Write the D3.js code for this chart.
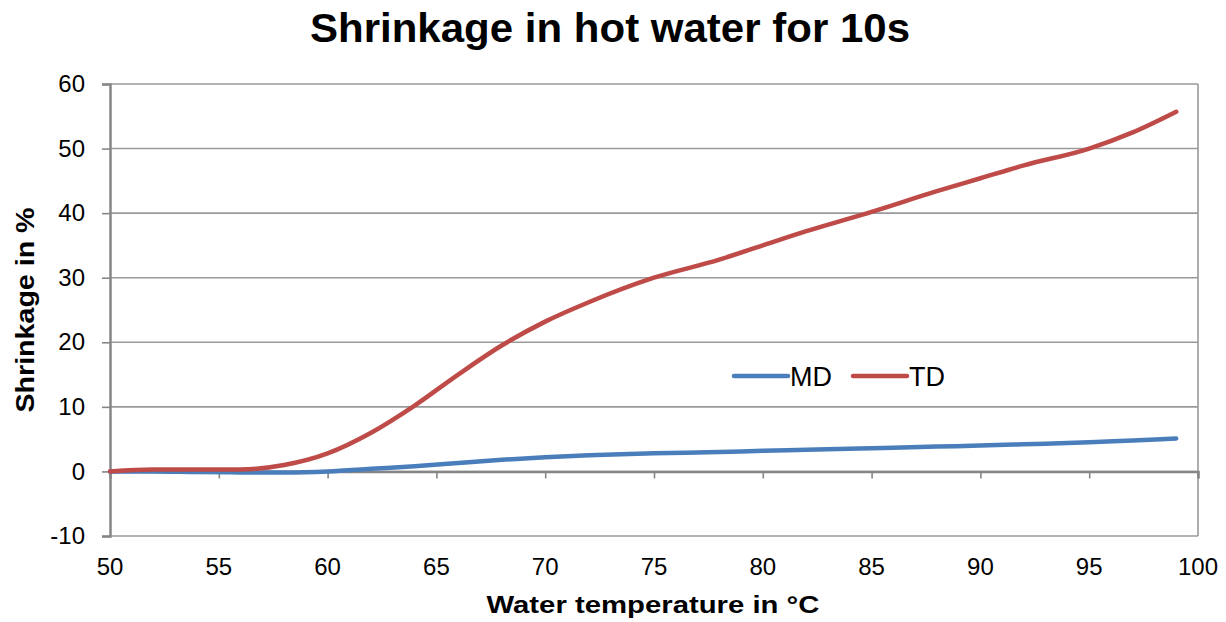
<!DOCTYPE html>
<html>
<head>
<meta charset="utf-8">
<script src="https://cdn.jsdelivr.net/npm/d3@7"></script>
<style>
  body { margin: 0; background: #fff; }
  text { font-family: "Liberation Sans", Arial, sans-serif; fill: #000; }
</style>
</head>
<body>
<svg id="chart" width="1226" height="622"></svg>
<script>
// data
var temps   = [50, 52, 54, 56, 58, 60, 62, 64, 66, 68, 70, 72, 75, 78, 80, 82, 85, 88, 90, 92, 95, 97, 99];
var mdVals  = [0, 0, -0.1, -0.15, -0.15, 0, 0.4, 0.8, 1.3, 1.8, 2.2, 2.5, 2.8, 3.0, 3.2, 3.35, 3.6, 3.85, 4.0, 4.2, 4.5, 4.8, 5.1];
var tdVals  = [0, 0.3, 0.3, 0.3, 1.0, 2.8, 6.0, 10.2, 15.0, 19.5, 23.2, 26.2, 30.0, 32.8, 35.0, 37.2, 40.2, 43.4, 45.4, 47.4, 50.0, 52.5, 55.7];
var seriesNames = ['MD', 'TD'];
var seriesColors = ['#4a7ebb', '#be4b48'];
var xTicks = [50, 55, 60, 65, 70, 75, 80, 85, 90, 95, 100];
var yTicks = [-10, 0, 10, 20, 30, 40, 50, 60];

var svg = d3.select('#chart');

var padding = {t: 84, r: 28, b: 86, l: 110};
var chartWidth = 1198 - padding.l;
var chartHeight = 536 - padding.t;

var chartG = svg.append('g')
    .attr('transform', 'translate(' + [padding.l, padding.t] + ')');

var xScale = d3.scaleLinear().domain([50, 100]).range([0, chartWidth]);
var yScale = d3.scaleLinear().domain([-10, 60]).range([chartHeight, 0]);

// gridlines
chartG.append('g')
    .selectAll('line')
    .data(yTicks)
    .enter().append('line')
    .attr('x1', 0).attr('x2', chartWidth)
    .attr('y1', function(d) { return yScale(d); })
    .attr('y2', function(d) { return yScale(d); })
    .attr('stroke', '#9a9a9a')
    .attr('stroke-width', 1.6);

// right border
chartG.append('line')
    .attr('x1', chartWidth).attr('x2', chartWidth)
    .attr('y1', 0).attr('y2', chartHeight)
    .attr('stroke', '#9a9a9a').attr('stroke-width', 1.6);

// y axis
var yAxisG = chartG.append('g')
    .call(d3.axisLeft(yScale).tickValues(yTicks).tickSize(8).tickPadding(17)
        .tickFormat(function(d) { return String(d); }));
yAxisG.select('.domain').attr('stroke', '#868686').attr('stroke-width', 2.5);
yAxisG.selectAll('.tick line').attr('stroke', '#868686').attr('stroke-width', 1.6);
yAxisG.selectAll('text').style('font-size', '24px').attr('fill', '#000');

// x axis crosses at zero, labels at bottom
var xAxisG = chartG.append('g')
    .attr('transform', 'translate(0,' + yScale(0) + ')')
    .call(d3.axisBottom(xScale).tickValues(xTicks).tickSize(7).tickFormat(''));
xAxisG.select('.domain').attr('stroke', '#868686').attr('stroke-width', 2.5);
xAxisG.selectAll('.tick line').attr('stroke', '#868686').attr('stroke-width', 1.6);

chartG.append('g')
    .selectAll('text')
    .data(xTicks)
    .enter().append('text')
    .attr('x', function(d) { return xScale(d); })
    .attr('y', chartHeight + 39)
    .attr('text-anchor', 'middle')
    .style('font-size', '24px')
    .text(function(d) { return d; });

// lines
var line = d3.line()
    .x(function(d) { return xScale(d[0]); })
    .y(function(d) { return yScale(d[1]); })
    .curve(d3.curveMonotoneX);

[mdVals, tdVals].forEach(function(vals, i) {
    chartG.append('path')
        .datum(temps.map(function(t, j) { return [t, vals[j]]; }))
        .attr('fill', 'none')
        .attr('stroke', seriesColors[i])
        .attr('stroke-width', 4.5)
        .attr('stroke-linecap', 'round')
        .attr('d', line);
});

// legend
var legendG = svg.append('g').attr('transform', 'translate(734,376)');
seriesNames.forEach(function(name, i) {
    var g = legendG.append('g').attr('transform', 'translate(' + (i * 119) + ',0)');
    g.append('line')
        .attr('x1', 0).attr('x2', 54)
        .attr('stroke', seriesColors[i])
        .attr('stroke-width', 4.5)
        .attr('stroke-linecap', 'round');
    g.append('text')
        .attr('x', 56).attr('y', 10)
        .style('font-size', '27px')
        .text(name);
});

// titles
svg.append('text')
    .attr('x', 610).attr('y', 42)
    .attr('text-anchor', 'middle')
    .attr('textLength', 600).attr('lengthAdjust', 'spacingAndGlyphs')
    .style('font-size', '41px').style('font-weight', 'bold')
    .text('Shrinkage in hot water for 10s');

svg.append('text')
    .attr('x', 653).attr('y', 613)
    .attr('text-anchor', 'middle')
    .attr('textLength', 333).attr('lengthAdjust', 'spacingAndGlyphs')
    .style('font-size', '24px').style('font-weight', 'bold')
    .text('Water temperature in °C');

svg.append('text')
    .attr('transform', 'translate(34,310) rotate(-90)')
    .attr('text-anchor', 'middle')
    .attr('textLength', 205).attr('lengthAdjust', 'spacingAndGlyphs')
    .style('font-size', '25px').style('font-weight', 'bold')
    .text('Shrinkage in %');
</script>
</body>
</html>
